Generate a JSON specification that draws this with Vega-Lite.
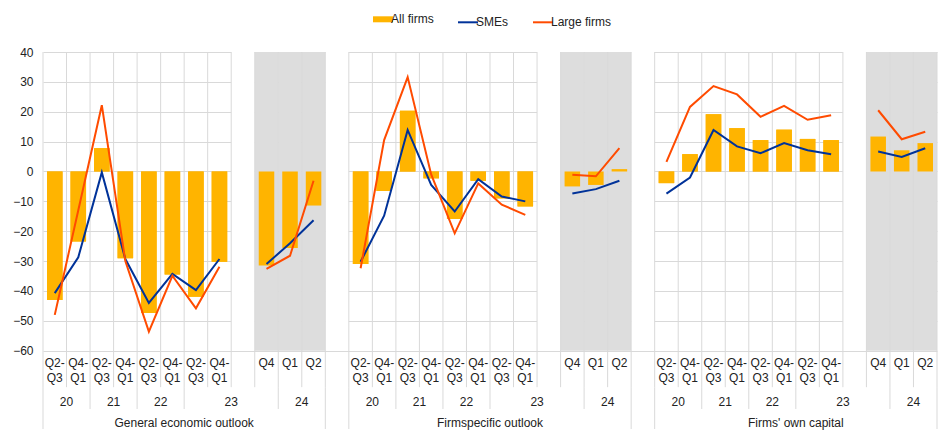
{
  "$schema": "https://vega.github.io/schema/vega-lite/v6.json",
  "autosize": {"type": "fit", "contains": "padding"},
  "width": 938,
  "height": 430,
  "padding": {"left": 12, "top": 46, "right": 0, "bottom": 0},
  "config": {
    "font": "Liberation Sans",
    "view": {"stroke": null},
    "text": {"fontSize": 12, "color": "#222222", "font": "Liberation Sans"}
  },
  "data": {"values": [
    {"panel": "General economic outlook", "key": "1 Q2-Q3 20", "period": "Q2-Q3 20", "freq": "semi", "year": "20", "all": -43.0, "sme": -40.7, "large": -48.0},
    {"panel": "General economic outlook", "key": "1 Q4-Q1 20", "period": "Q4-Q1 20", "freq": "semi", "year": "20", "all": -23.4, "sme": -28.7, "large": -13.0},
    {"panel": "General economic outlook", "key": "1 Q2-Q3 21", "period": "Q2-Q3 21", "freq": "semi", "year": "21", "all": 7.8, "sme": -0.3, "large": 22.2},
    {"panel": "General economic outlook", "key": "1 Q4-Q1 21", "period": "Q4-Q1 21", "freq": "semi", "year": "21", "all": -29.0, "sme": -29.3, "large": -30.0},
    {"panel": "General economic outlook", "key": "1 Q2-Q3 22", "period": "Q2-Q3 22", "freq": "semi", "year": "22", "all": -47.4, "sme": -44.0, "large": -53.6},
    {"panel": "General economic outlook", "key": "1 Q4-Q1 22", "period": "Q4-Q1 22", "freq": "semi", "year": "22", "all": -34.5, "sme": -34.3, "large": -34.9},
    {"panel": "General economic outlook", "key": "1 Q2-Q3 23", "period": "Q2-Q3 23", "freq": "semi", "year": "23", "all": -41.9, "sme": -39.7, "large": -45.8},
    {"panel": "General economic outlook", "key": "1 Q4-Q1 23", "period": "Q4-Q1 23", "freq": "semi", "year": "23", "all": -30.2, "sme": -29.3, "large": -31.9},
    {"panel": "General economic outlook", "key": "1 Q4 23", "period": "Q4 23", "freq": "quarterly", "year": "23", "all": -31.5, "sme": -31.0, "large": -32.6},
    {"panel": "General economic outlook", "key": "1 Q1 24", "period": "Q1 24", "freq": "quarterly", "year": "24", "all": -25.6, "sme": -24.0, "large": -28.2},
    {"panel": "General economic outlook", "key": "1 Q2 24", "period": "Q2 24", "freq": "quarterly", "year": "24", "all": -11.4, "sme": -16.3, "large": -3.1},
    {"panel": "Firmspecific outlook", "key": "2 Q2-Q3 20", "period": "Q2-Q3 20", "freq": "semi", "year": "20", "all": -31.0, "sme": -30.2, "large": -32.4},
    {"panel": "Firmspecific outlook", "key": "2 Q4-Q1 20", "period": "Q4-Q1 20", "freq": "semi", "year": "20", "all": -6.5, "sme": -14.8, "large": 10.5},
    {"panel": "Firmspecific outlook", "key": "2 Q2-Q3 21", "period": "Q2-Q3 21", "freq": "semi", "year": "21", "all": 20.3, "sme": 13.9, "large": 31.6},
    {"panel": "Firmspecific outlook", "key": "2 Q4-Q1 21", "period": "Q4-Q1 21", "freq": "semi", "year": "21", "all": -2.3, "sme": -4.5, "large": -1.0},
    {"panel": "Firmspecific outlook", "key": "2 Q2-Q3 22", "period": "Q2-Q3 22", "freq": "semi", "year": "22", "all": -15.9, "sme": -13.4, "large": -20.7},
    {"panel": "Firmspecific outlook", "key": "2 Q4-Q1 22", "period": "Q4-Q1 22", "freq": "semi", "year": "22", "all": -3.1, "sme": -2.6, "large": -4.0},
    {"panel": "Firmspecific outlook", "key": "2 Q2-Q3 23", "period": "Q2-Q3 23", "freq": "semi", "year": "23", "all": -9.0, "sme": -8.4, "large": -11.1},
    {"panel": "Firmspecific outlook", "key": "2 Q4-Q1 23", "period": "Q4-Q1 23", "freq": "semi", "year": "23", "all": -11.7, "sme": -10.0, "large": -14.5},
    {"panel": "Firmspecific outlook", "key": "2 Q4 23", "period": "Q4 23", "freq": "quarterly", "year": "23", "all": -5.0, "sme": -7.4, "large": -1.1},
    {"panel": "Firmspecific outlook", "key": "2 Q1 24", "period": "Q1 24", "freq": "quarterly", "year": "24", "all": -4.5, "sme": -5.9, "large": -1.6},
    {"panel": "Firmspecific outlook", "key": "2 Q2 24", "period": "Q2 24", "freq": "quarterly", "year": "24", "all": 0.8, "sme": -3.1, "large": 7.8},
    {"panel": "Firms' own capital", "key": "3 Q2-Q3 20", "period": "Q2-Q3 20", "freq": "semi", "year": "20", "all": -3.9, "sme": -7.4, "large": 3.2},
    {"panel": "Firms' own capital", "key": "3 Q4-Q1 20", "period": "Q4-Q1 20", "freq": "semi", "year": "20", "all": 5.8, "sme": -2.0, "large": 21.6},
    {"panel": "Firms' own capital", "key": "3 Q2-Q3 21", "period": "Q2-Q3 21", "freq": "semi", "year": "21", "all": 19.2, "sme": 13.9, "large": 28.6},
    {"panel": "Firms' own capital", "key": "3 Q4-Q1 21", "period": "Q4-Q1 21", "freq": "semi", "year": "21", "all": 14.5, "sme": 8.4, "large": 25.8},
    {"panel": "Firms' own capital", "key": "3 Q2-Q3 22", "period": "Q2-Q3 22", "freq": "semi", "year": "22", "all": 10.5, "sme": 6.1, "large": 18.3},
    {"panel": "Firms' own capital", "key": "3 Q4-Q1 22", "period": "Q4-Q1 22", "freq": "semi", "year": "22", "all": 14.0, "sme": 9.5, "large": 22.0},
    {"panel": "Firms' own capital", "key": "3 Q2-Q3 23", "period": "Q2-Q3 23", "freq": "semi", "year": "23", "all": 10.9, "sme": 7.1, "large": 17.3},
    {"panel": "Firms' own capital", "key": "3 Q4-Q1 23", "period": "Q4-Q1 23", "freq": "semi", "year": "23", "all": 10.5, "sme": 5.8, "large": 18.8},
    {"panel": "Firms' own capital", "key": "3 Q4 23", "period": "Q4 23", "freq": "quarterly", "year": "23", "all": 11.7, "sme": 6.7, "large": 20.5},
    {"panel": "Firms' own capital", "key": "3 Q1 24", "period": "Q1 24", "freq": "quarterly", "year": "24", "all": 7.1, "sme": 4.9, "large": 10.8},
    {"panel": "Firms' own capital", "key": "3 Q2 24", "period": "Q2 24", "freq": "quarterly", "year": "24", "all": 9.5, "sme": 7.8, "large": 13.3}
  ]},
  "layer": [
    {"mark": {"type": "bar", "width": {"band": 0.66}},
     "encoding": {
       "x": {"field": "key", "type": "ordinal", "title": null,
         "scale": {"domain": ["1 Q2-Q3 20","1 Q4-Q1 20","1 Q2-Q3 21","1 Q4-Q1 21","1 Q2-Q3 22","1 Q4-Q1 22","1 Q2-Q3 23","1 Q4-Q1 23","1 gap","1 Q4 23","1 Q1 24","1 Q2 24","g1","2 Q2-Q3 20","2 Q4-Q1 20","2 Q2-Q3 21","2 Q4-Q1 21","2 Q2-Q3 22","2 Q4-Q1 22","2 Q2-Q3 23","2 Q4-Q1 23","2 gap","2 Q4 23","2 Q1 24","2 Q2 24","g2","3 Q2-Q3 20","3 Q4-Q1 20","3 Q2-Q3 21","3 Q4-Q1 21","3 Q2-Q3 22","3 Q4-Q1 22","3 Q2-Q3 23","3 Q4-Q1 23","3 gap","3 Q4 23","3 Q1 24","3 Q2 24"], "paddingInner": 0, "paddingOuter": 0},
         "axis": {"grid": false, "ticks": false, "domain": false, "labelAngle": 0, "labelPadding": -71.5, "labelFontSize": 12, "labelColor": "#222222", "labelFont": "Liberation Sans", "labelLineHeight": 15, "labelOverlap": false,
           "labelExpr": "indexof(datum.value, 'gap') >= 0 || length(datum.value) < 4 ? '' : (length(datum.value) > 8 ? [slice(datum.value, 2, 5), slice(datum.value, 5, 7)] : slice(datum.value, 2, 4))"}},
       "y": {"field": "all", "type": "quantitative", "title": null,
         "scale": {"domain": [-86.2, 40], "nice": false, "zero": false},
         "axis": {"values": [-60, -50, -40, -30, -20, -10, 0, 10, 20, 30, 40], "tickCount": 14, "labelOverlap": false, "grid": true, "gridColor": "#d9d9d9", "domain": false, "ticks": false, "minExtent": 0, "labelPadding": 10, "labelFontSize": 12, "labelColor": "#222222", "labelFont": "Liberation Sans"}},
       "color": {"datum": "All firms", "type": "nominal",
         "scale": {"domain": ["All firms", "SMEs", "Large firms"], "range": ["#FFB400", "#003299", "#FF4B00"]},
         "legend": {"orient": "none", "legendX": 334, "legendY": -38.7, "direction": "horizontal", "title": null, "labelFontSize": 12, "labelColor": "#222222", "labelFont": "Liberation Sans", "symbolType": "stroke", "symbolSize": 400, "symbolStrokeWidth": 2, "columnPadding": 20, "labelOffset": 2,
           "encode": {"symbols": {"update": {
             "stroke": {"signal": "scale('color', datum.value)"},
             "strokeWidth": {"signal": "datum.value === 'All firms' ? 6 : 2"},
             "opacity": {"value": 1}
           }}}}}
     }},
    {"transform": [{"filter": "datum.freq == 'quarterly'"}],
     "mark": {"type": "rect", "color": "#dddddd"},
     "encoding": {
       "x": {"field": "key", "type": "ordinal"},
       "y": {"datum": 40, "type": "quantitative"},
       "y2": {"datum": -60}
     }},
    {"transform": [{"filter": "datum.key == '1 Q4 23'"}], "mark": {"type": "rect", "color": "#ffffff"},
     "encoding": {"x": {"datum": "1 gap", "type": "ordinal"}, "y": {"datum": 40, "type": "quantitative"}, "y2": {"datum": -60}}},
    {"transform": [{"filter": "datum.key == '1 Q4 23'"}], "mark": {"type": "rect", "color": "#ffffff"},
     "encoding": {"x": {"datum": "g1", "type": "ordinal"}, "y": {"datum": 40, "type": "quantitative"}, "y2": {"datum": -60}}},
    {"transform": [{"filter": "datum.key == '1 Q4 23'"}], "mark": {"type": "rect", "color": "#ffffff"},
     "encoding": {"x": {"datum": "2 gap", "type": "ordinal"}, "y": {"datum": 40, "type": "quantitative"}, "y2": {"datum": -60}}},
    {"transform": [{"filter": "datum.key == '1 Q4 23'"}], "mark": {"type": "rect", "color": "#ffffff"},
     "encoding": {"x": {"datum": "g2", "type": "ordinal"}, "y": {"datum": 40, "type": "quantitative"}, "y2": {"datum": -60}}},
    {"transform": [{"filter": "datum.key == '1 Q4 23'"}], "mark": {"type": "rect", "color": "#ffffff"},
     "encoding": {"x": {"datum": "3 gap", "type": "ordinal"}, "y": {"datum": 40, "type": "quantitative"}, "y2": {"datum": -60}}},
    {"mark": {"type": "rule", "color": "#d9d9d9", "strokeWidth": 1},
     "encoding": {
       "x": {"field": "key", "type": "ordinal", "bandPosition": 0},
       "y": {"datum": 40, "type": "quantitative"},
       "y2": {"datum": -72.2}
     }},
    {"transform": [{"filter": "datum.period == 'Q4-Q1 23' || datum.period == 'Q2 24'"}],
     "mark": {"type": "rule", "color": "#d9d9d9", "strokeWidth": 1},
     "encoding": {
       "x": {"field": "key", "type": "ordinal", "bandPosition": 1},
       "y": {"datum": 40, "type": "quantitative"},
       "y2": {"datum": -72.2}
     }},
    {"transform": [{"filter": "indexof(['Q2-Q3 21','Q2-Q3 22','Q2-Q3 23','Q1 24'], datum.period) >= 0"}],
     "mark": {"type": "rule", "color": "#d9d9d9", "strokeWidth": 1},
     "encoding": {
       "x": {"field": "key", "type": "ordinal", "bandPosition": 0},
       "y": {"datum": -72.2, "type": "quantitative"},
       "y2": {"datum": -79.5}
     }},
    {"transform": [{"filter": "datum.period == 'Q2-Q3 20'"}],
     "mark": {"type": "rule", "color": "#d9d9d9", "strokeWidth": 1},
     "encoding": {
       "x": {"field": "key", "type": "ordinal", "bandPosition": 0},
       "y": {"datum": -72.2, "type": "quantitative"},
       "y2": {"datum": -86.2}
     }},
    {"transform": [{"filter": "datum.period == 'Q2 24'"}],
     "mark": {"type": "rule", "color": "#d9d9d9", "strokeWidth": 1},
     "encoding": {
       "x": {"field": "key", "type": "ordinal", "bandPosition": 1},
       "y": {"datum": -72.2, "type": "quantitative"},
       "y2": {"datum": -86.2}
     }},
    {"mark": {"type": "bar", "width": {"band": 0.66}},
     "encoding": {
       "x": {"field": "key", "type": "ordinal"},
       "y": {"field": "all", "type": "quantitative"},
       "color": {"datum": "All firms", "type": "nominal"}
     }},
    {"mark": {"type": "line", "strokeWidth": 2},
     "encoding": {
       "x": {"field": "key", "type": "ordinal"},
       "y": {"field": "sme", "type": "quantitative"},
       "detail": [{"field": "panel"}, {"field": "freq"}],
       "color": {"datum": "SMEs", "type": "nominal"}
     }},
    {"mark": {"type": "line", "strokeWidth": 2},
     "encoding": {
       "x": {"field": "key", "type": "ordinal"},
       "y": {"field": "large", "type": "quantitative"},
       "detail": [{"field": "panel"}, {"field": "freq"}],
       "color": {"datum": "Large firms", "type": "nominal"}
     }},
    {"transform": [{"filter": "indexof(['Q2-Q3 20','Q2-Q3 21','Q2-Q3 22','Q4-Q1 23','Q1 24'], datum.period) >= 0"}],
     "mark": {"type": "text", "baseline": "middle", "align": "center"},
     "encoding": {
       "x": {"field": "key", "type": "ordinal", "bandPosition": 1},
       "y": {"datum": -77, "type": "quantitative"},
       "text": {"field": "year"}
     }},
    {"transform": [{"filter": "datum.period == 'Q2-Q3 23'"}],
     "mark": {"type": "text", "baseline": "middle", "align": "center"},
     "encoding": {
       "x": {"field": "key", "type": "ordinal", "bandPosition": 0},
       "y": {"datum": -84.2, "type": "quantitative"},
       "text": {"field": "panel"}
     }}
  ]
}
